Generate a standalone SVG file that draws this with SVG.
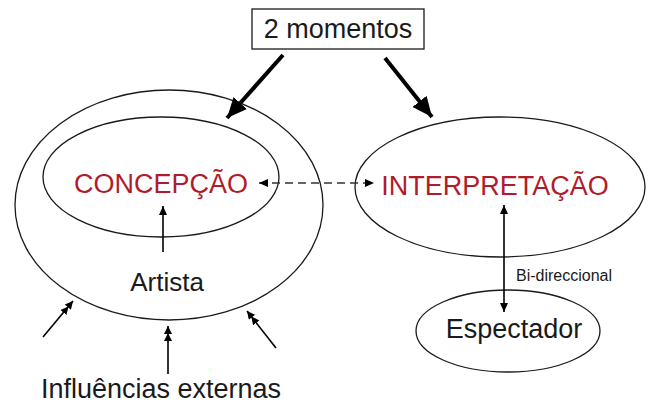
<svg xmlns="http://www.w3.org/2000/svg" width="649" height="407" viewBox="0 0 649 407">
<style>
.el{fill:none;stroke:#1a1a1a;stroke-width:1.3}
.t{font-family:"Liberation Sans",Arial,sans-serif;fill:#1a1a1a;text-anchor:middle}
.red{fill:#b11c2c}
.thick{stroke:#000;stroke-width:4;fill:none}
.thin{stroke:#000;stroke-width:1.6;fill:none}
.dash{stroke:#333;stroke-width:1.6;stroke-dasharray:8 5;fill:none}
</style>
<defs>
<marker id="big" markerUnits="userSpaceOnUse" markerWidth="22" markerHeight="18" refX="20" refY="9" orient="auto">
<path d="M0,0 L20,9 L0,18 Z" fill="#000"/>
</marker>
<marker id="sm" markerUnits="userSpaceOnUse" markerWidth="10" markerHeight="8" refX="9" refY="4" orient="auto-start-reverse">
<path d="M0,0 L9,4 L0,8 Z" fill="#000"/>
</marker>
<marker id="dbl" markerUnits="userSpaceOnUse" markerWidth="16" markerHeight="8" refX="15" refY="4" orient="auto">
<path d="M0,0 L8,4 L0,8 Z M7,0 L15,4 L7,8 Z" fill="#000"/>
</marker>
</defs>
<g id="momentos">
<rect x="252" y="9" width="172" height="40" fill="#fff" stroke="#1a1a1a" stroke-width="1.3"/>
<text class="t" x="338" y="38" font-size="27">2 momentos</text>
</g>
<g id="artista">
<ellipse class="el" cx="169" cy="205" rx="154" ry="115"/>
<text class="t" x="167" y="291" font-size="26">Artista</text>
</g>
<g id="concepcao">
<ellipse class="el" cx="161" cy="177" rx="118" ry="60"/>
<text class="t red" x="161" y="193" font-size="27">CONCEPÇÃO</text>
</g>
<g id="interpretacao">
<ellipse class="el" cx="500" cy="187" rx="145" ry="70"/>
<text class="t red" x="495" y="195" font-size="27">INTERPRETAÇÃO</text>
</g>
<g id="espectador">
<ellipse class="el" cx="508" cy="331" rx="92" ry="41"/>
<text class="t" x="514" y="338" font-size="27">Espectador</text>
</g>
<g id="influencias">
<text class="t" x="161" y="398" font-size="27">Influências externas</text>
</g>
<g id="connectors">
<line class="thick" x1="283" y1="55" x2="227" y2="118" marker-end="url(#big)"/>
<line class="thick" x1="385" y1="58" x2="432" y2="117" marker-end="url(#big)"/>
<line class="dash" x1="259" y1="183" x2="374" y2="183" marker-start="url(#sm)" marker-end="url(#sm)"/>
<line class="thin" x1="163" y1="252" x2="163" y2="206" marker-end="url(#sm)"/>
<line class="thin" x1="504" y1="205" x2="504" y2="312" marker-start="url(#sm)" marker-end="url(#sm)"/>
<line class="thin" x1="43" y1="337" x2="73" y2="301" marker-end="url(#dbl)"/>
<line class="thin" x1="168" y1="374" x2="168" y2="326" marker-end="url(#dbl)"/>
<line class="thin" x1="276" y1="348" x2="247" y2="311" marker-end="url(#dbl)"/>
<text class="t" x="564" y="281" font-size="16" fill="#1a1a1a">Bi-direccional</text>
</g>
</svg>
